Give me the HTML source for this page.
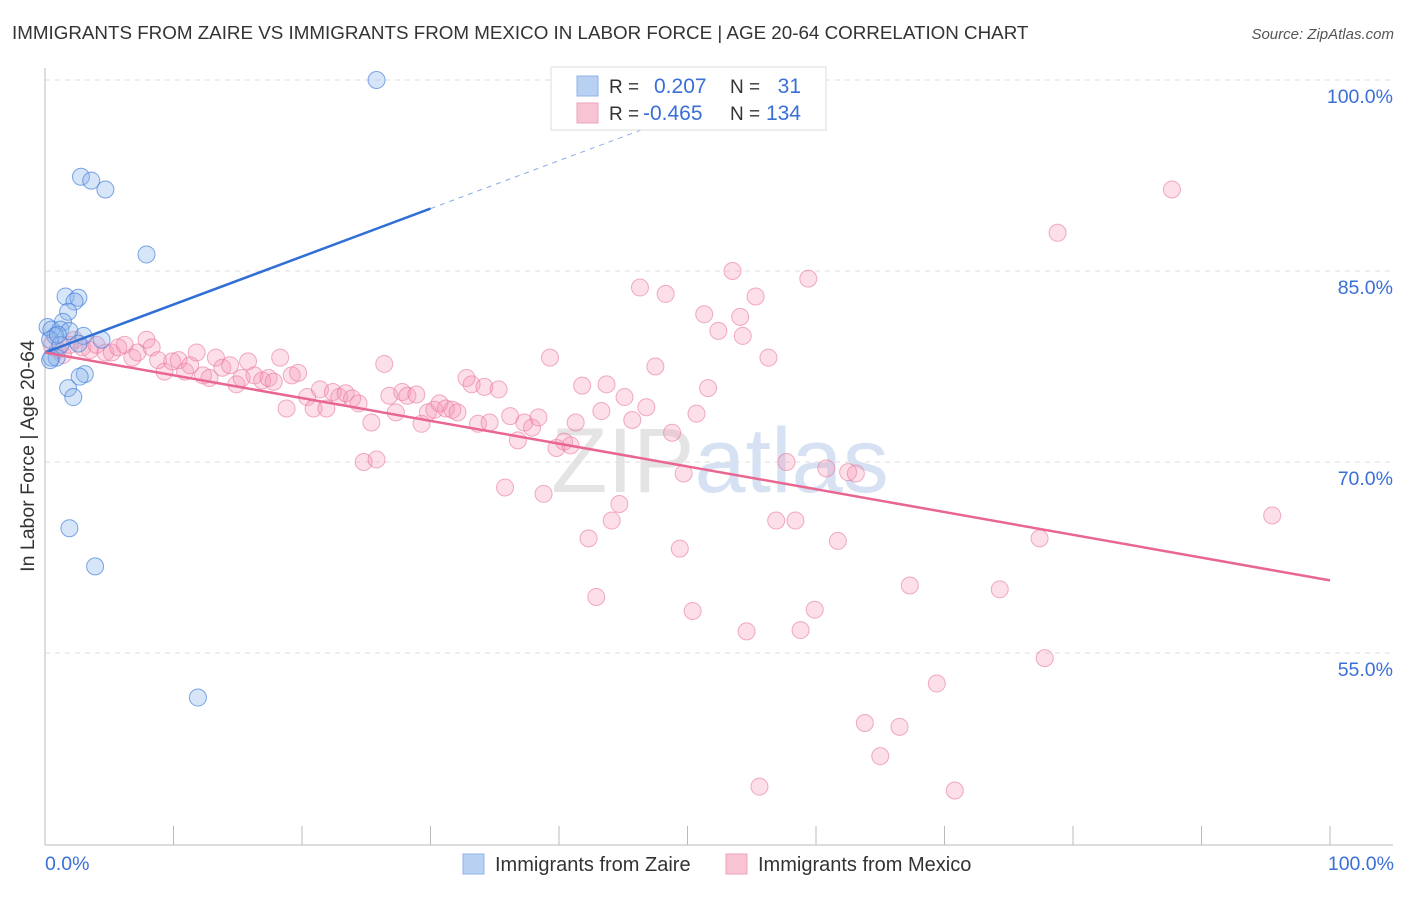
<!DOCTYPE html>
<html><head><meta charset="utf-8"><style>
body{margin:0;background:#fff;font-family:"Liberation Sans",sans-serif;}
svg text{font-family:"Liberation Sans",sans-serif;}
</style></head><body>
<svg id="chart" width="1406" height="892" xmlns="http://www.w3.org/2000/svg">
<text x="12" y="39" font-size="18.8" fill="#333">IMMIGRANTS FROM ZAIRE VS IMMIGRANTS FROM MEXICO IN LABOR FORCE | AGE 20-64 CORRELATION CHART</text>
<text x="1394" y="39" font-size="15" fill="#555" text-anchor="end" font-style="italic">Source: ZipAtlas.com</text>
<text x="720" y="492" font-size="92" fill="#e4e4e4" text-anchor="middle" font-family="Liberation Serif">ZIP<tspan fill="#d6e2f3" font-family="Liberation Sans">atlas</tspan></text>
<g id="grid"></g>
<g id="axes"></g>
<g id="pink"></g>
<g id="blue"></g>
<g id="trends"></g>
<text transform="translate(34,456) rotate(-90)" font-size="19.5" fill="#333" text-anchor="middle">In Labor Force | Age 20-64</text>
<text x="45" y="870" font-size="19.5" fill="#3a6fd8">0.0%</text>
<text x="1394" y="870" font-size="19.5" fill="#3a6fd8" text-anchor="end">100.0%</text>
<g>
<rect x="551" y="67" width="275" height="63" fill="#fff" stroke="#ddd"/>
<rect x="577" y="76" width="21" height="20" fill="#b8d1f3" stroke="#8fb3e8"/>
<rect x="577" y="103" width="21" height="20" fill="#f8c4d4" stroke="#eea3bb"/>
<text x="609" y="93" font-size="19" fill="#333">R =</text>
<text x="654" y="93" font-size="21" fill="#3a6fd8">0.207</text>
<text x="730" y="93" font-size="19" fill="#333">N =</text>
<text x="801" y="93" font-size="21" fill="#3a6fd8" text-anchor="end">31</text>
<text x="609" y="120" font-size="19" fill="#333">R =</text>
<text x="643" y="120" font-size="21" fill="#3a6fd8">-0.465</text>
<text x="730" y="120" font-size="19" fill="#333">N =</text>
<text x="801" y="120" font-size="21" fill="#3a6fd8" text-anchor="end">134</text>
</g>
<g>
<rect x="463" y="854" width="21" height="20" fill="#b8d1f3" stroke="#8fb3e8"/>
<text x="495" y="871" font-size="20" fill="#333">Immigrants from Zaire</text>
<rect x="726" y="854" width="21" height="20" fill="#f8c4d4" stroke="#eea3bb"/>
<text x="758" y="871" font-size="20" fill="#333">Immigrants from Mexico</text>
</g>
</svg>
<script>
const yTicks=[100,85,70,55];
const yTickLabels=["100.0%","85.0%","70.0%","55.0%"];
const xTicks=[0,10,20,30,40,50,60,70,80,90,100];
const blueX=[25.8,2.8,3.6,4.7,7.9,1.6,2.6,2.3,1.8,1.4,0.2,0.5,1.2,1.9,3.0,0.8,0.4,4.4,2.6,1.2,0.5,0.9,1.8,3.1,2.7,2.2,1.9,3.9,11.9,0.4,1.0];
const blueY=[100,92.4,92.1,91.4,86.3,83.0,82.9,82.6,81.8,81.0,80.6,80.4,80.4,80.3,79.9,79.9,79.6,79.6,79.3,79.2,78.2,78.2,75.8,76.9,76.7,75.1,64.8,61.8,51.5,78.0,80.0];
const pinkX=[0.5,1.0,1.4,1.9,2.3,2.9,3.5,4.0,4.7,5.2,5.7,6.2,6.8,7.2,7.9,8.3,8.8,9.3,9.9,10.4,10.9,11.3,11.8,12.3,12.8,13.3,13.8,14.4,14.9,15.3,15.8,16.3,16.9,17.4,17.8,18.3,18.8,19.2,19.7,20.4,20.9,21.4,21.9,22.4,22.9,23.4,23.9,24.4,24.8,25.4,25.8,26.4,26.8,27.3,27.8,28.2,28.9,29.3,29.8,30.3,30.7,31.2,31.7,32.1,32.8,33.2,33.7,34.2,34.6,35.3,35.8,36.2,36.8,37.3,37.9,38.4,38.8,39.3,39.8,40.4,40.9,41.3,41.8,42.3,42.9,43.3,43.7,44.1,44.7,45.1,45.7,46.3,46.8,47.5,48.3,48.8,49.4,49.7,50.4,50.7,51.3,51.6,52.4,53.5,54.1,54.3,54.6,55.3,55.6,56.3,56.9,57.7,58.4,58.8,59.4,59.9,60.8,61.7,62.5,63.1,63.8,65.0,66.5,67.3,69.4,70.8,74.3,77.4,77.8,78.8,87.7,95.5,47.5];
const pinkY=[79.2,78.8,78.4,79.2,79.6,79.0,78.8,79.2,78.6,78.6,79.0,79.2,78.2,78.6,79.6,79.0,78.0,77.1,77.9,78.0,77.1,77.6,78.6,76.8,76.6,78.2,77.4,77.6,76.1,76.6,77.9,76.8,76.4,76.6,76.3,78.2,74.2,76.8,77.0,75.1,74.2,75.7,74.2,75.5,75.1,75.4,75.0,74.6,70.0,73.1,70.2,77.7,75.2,73.9,75.5,75.2,75.3,73.0,73.9,74.1,74.6,74.2,74.1,73.9,76.6,76.1,73.0,75.9,73.1,75.7,68.0,73.6,71.7,73.1,72.7,73.5,67.5,78.2,71.1,71.6,71.3,73.1,76.0,64.0,59.4,74.0,76.1,65.4,66.7,75.1,73.3,83.7,74.3,77.5,83.2,72.3,63.2,69.1,58.3,73.8,81.6,75.8,80.3,85.0,81.4,79.9,56.7,83.0,44.5,78.2,65.4,70.0,65.4,56.8,84.4,58.4,69.5,63.8,69.2,69.1,49.5,46.9,49.2,60.3,52.6,44.2,60.0,64.0,54.6,88.0,91.4,65.8,100];
const blueTrend=[78.6,89.9];   // y at x=0 and x=30
const pinkTrend=[78.6,60.7];   // y at x=0 and x=100
const NS="http://www.w3.org/2000/svg";
const X=v=>45+v*12.85;
const Y=v=>80+(100-v)*12.733;
function mk(tag,attrs,parent){const e=document.createElementNS(NS,tag);for(const k in attrs)e.setAttribute(k,attrs[k]);document.getElementById(parent).appendChild(e);return e;}
yTicks.forEach((t,i)=>{
  const l=mk('line',{x1:45,x2:1393,y1:Y(t),y2:Y(t),stroke:'#ddd','stroke-dasharray':'5,5'},'grid');
  
  
  const tx=mk('text',{x:1393,y:Y(t)+23,'font-size':19.5,fill:'#3a6fd8','text-anchor':'end'},'grid');
  tx.textContent=yTickLabels[i];
  
  
});
const ax=mk('line',{x1:45,x2:1393,y1:845,y2:845,stroke:'#bbb'},'axes');


const ay=mk('line',{x1:45,x2:45,y1:68,y2:845,stroke:'#bbb'},'axes');


xTicks.forEach(t=>{
  const l=mk('line',{x1:X(t),x2:X(t),y1:826,y2:845,stroke:'#bbb'},'axes');
  
  
});
pinkX.forEach((v,i)=>{
  const c=mk('circle',{cx:X(v),cy:Y(pinkY[i]),r:8.5,fill:'rgba(244,150,180,0.3)',stroke:'rgba(232,120,158,0.6)','stroke-width':1},'pink');
  
  
});
blueX.forEach((v,i)=>{
  const c=mk('circle',{cx:X(v),cy:Y(blueY[i]),r:8.5,fill:'rgba(140,180,235,0.35)',stroke:'rgba(70,130,220,0.7)','stroke-width':1},'blue');
  
  
});
const bs=(blueTrend[1]-blueTrend[0])/30;
const bt=mk('line',{x1:X(0),y1:Y(blueTrend[0]),x2:X(30),y2:Y(blueTrend[1]),stroke:'#2f6fd6','stroke-width':2.5},'trends');


const xEnd=(100-blueTrend[0])/bs;
const bd=mk('line',{x1:X(30),y1:Y(blueTrend[1]),x2:X(xEnd),y2:Y(100),stroke:'#8aaee6','stroke-width':1,'stroke-dasharray':'5,5'},'trends');


const pt=mk('line',{x1:X(0),y1:Y(pinkTrend[0]),x2:X(100),y2:Y(pinkTrend[1]),stroke:'#e8668f','stroke-width':2.5},'trends');


</script>
</body></html>
